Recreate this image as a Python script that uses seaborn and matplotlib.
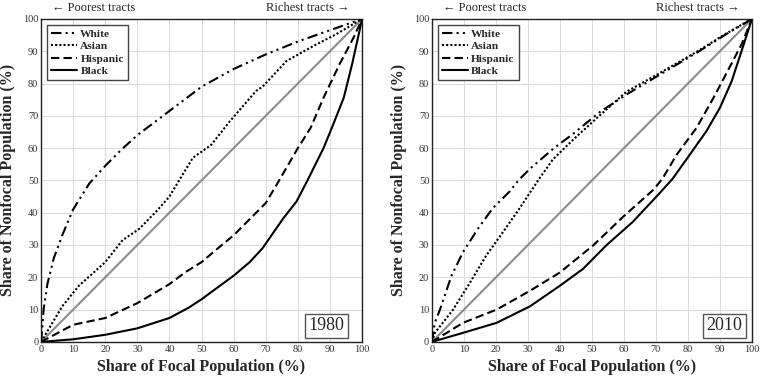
import matplotlib
matplotlib.use("Agg")
import matplotlib.pyplot as plt
import seaborn as sns
import pandas as pd
from matplotlib.lines import Line2D

# --- data (cumulative shares, %) ---
white_1980_x = [0, 0.3, 0.8, 2, 4, 6.6, 10, 15, 20, 25, 30, 40, 50, 60, 70, 80, 90, 100]
white_1980_y = [0, 3, 10, 18, 26, 33, 41, 49, 54.5, 59.5, 64, 71.5, 79, 84.5, 89, 93, 96.5, 100]
asian_1980_x = [0, 6.6, 11.8, 20, 25.4, 30.6, 35.8, 40, 43, 47.3, 53, 58.8, 67, 69, 76.5, 85, 92, 100]
asian_1980_y = [0, 11, 17.4, 24.7, 31.5, 35, 40.3, 45, 50, 57, 61, 68.3, 77.7, 79, 87, 91.7, 95.3, 100]
hisp_1980_x = [0, 10, 20, 30, 40, 45, 50, 55, 60, 70, 74, 80, 84, 88, 93, 97.4, 100]
hisp_1980_y = [0, 5.3, 7.4, 12, 17.9, 21.6, 24.7, 28.9, 33, 43, 49.7, 60, 66.3, 75.6, 86, 94.3, 100]
black_1980_x = [0, 10, 20, 30, 40, 46, 50, 60, 65, 69, 75.5, 79.6, 83, 88, 91, 94.3, 96.9, 99, 100]
black_1980_y = [0, 0.8, 2.2, 4.2, 7.4, 10.6, 13.2, 20.5, 24.7, 29, 38.3, 43.5, 50, 60, 67.3, 75.6, 86, 95.4, 100]

white_2010_x = [0, 0.9, 2.5, 6.1, 9.7, 14.4, 19, 24.3, 27, 30.6, 37.9, 44.2, 52.5, 60.8, 71.3, 82.7, 92, 100]
white_2010_y = [0, 6, 10, 20.5, 27.8, 35.1, 41.4, 46.6, 50, 53.6, 59.8, 64.5, 71.2, 76.6, 82.8, 89.5, 95.3, 100]
asian_2010_x = [0, 0.9, 6.6, 11.9, 17, 22.2, 27.4, 33.5, 37.8, 44, 52.5, 60.7, 71.3, 82.7, 92, 100]
asian_2010_y = [0, 2.8, 10, 18.4, 26.8, 34, 41.4, 50.5, 56.5, 62.5, 70.2, 77.4, 83.3, 89.8, 95.5, 100]
hisp_2010_x = [0, 9.7, 20.2, 30.6, 40, 50.4, 59.8, 69.2, 72, 76.5, 82.7, 88, 93, 96.8, 100]
hisp_2010_y = [0, 5.9, 10, 15.8, 21.5, 29.9, 38.8, 47.1, 50.5, 58, 66.3, 75.6, 85, 92.2, 100]
black_2010_x = [0, 9.7, 20.2, 30.6, 40, 47.2, 54.5, 62.8, 71.1, 75.2, 80.6, 85.8, 90, 93.7, 96.8, 100]
black_2010_y = [0, 2.8, 5.9, 11, 17.4, 22.6, 29.9, 37.2, 46, 50.5, 58, 65.3, 72.5, 80.8, 90.2, 100]

groups = ["White", "Asian", "Hispanic", "Black"]
years = ["1980", "2010"]
equality = [0, 100]

series = {
    "1980": {"White": (white_1980_x, white_1980_y), "Asian": (asian_1980_x, asian_1980_y),
             "Hispanic": (hisp_1980_x, hisp_1980_y), "Black": (black_1980_x, black_1980_y)},
    "2010": {"White": (white_2010_x, white_2010_y), "Asian": (asian_2010_x, asian_2010_y),
             "Hispanic": (hisp_2010_x, hisp_2010_y), "Black": (black_2010_x, black_2010_y)},
}

rows = []
for yr in years:
    for g in groups:
        xs, ys = series[yr][g]
        for a, b in zip(xs, ys):
            rows.append({"year": yr, "group": g, "focal": a, "nonfocal": b})
df = pd.DataFrame(rows)

sns.set_style("whitegrid")
plt.rcParams["font.family"] = ["Liberation Serif", "DejaVu Serif"]

dashes = {"White": (5, 2, 1, 2, 1, 2), "Asian": (1, 1), "Hispanic": (4, 2), "Black": ""}
palette = {g: "black" for g in groups}

fig = plt.figure(figsize=(7.6, 3.82), dpi=100)
axes = [fig.add_axes([0.054, 0.105, 0.4224, 0.8455]),
        fig.add_axes([0.5684, 0.105, 0.421, 0.8455])]
year_pos = {"1980": 0.944, "2010": 0.97}

for ax, yr in zip(axes, years):
    ax.plot(equality, equality, color="#8c8c8c", lw=1.5, zorder=2)
    sns.lineplot(data=df[df["year"] == yr], x="focal", y="nonfocal", hue="group",
                 style="group", palette=palette, dashes=dashes, hue_order=groups,
                 style_order=groups, estimator=None, sort=True, lw=1.5,
                 legend=False, ax=ax, zorder=3)
    ax.set_xlim(0, 100)
    ax.set_ylim(0, 100)
    ax.set_xticks(range(0, 101, 10))
    ax.set_yticks(range(0, 101, 10))
    ax.grid(True, color="#dcdcdc", lw=0.8)
    ax.tick_params(labelsize=7.5, length=0, pad=2, colors="#333333")
    for s in ax.spines.values():
        s.set_color("#222222")
        s.set_linewidth(1.0)
    ax.set_xlabel("Share of Focal Population (%)", fontsize=11.5, fontweight="bold", labelpad=4)
    ax.set_ylabel("Share of Nonfocal Population (%)", fontsize=11.5, fontweight="bold", labelpad=5)
    ax.text(0.035, 1.015, "\u2190 Poorest tracts", transform=ax.transAxes, fontsize=9, va="bottom", ha="left")
    ax.text(0.962, 1.015, "Richest tracts \u2192", transform=ax.transAxes, fontsize=9, va="bottom", ha="right")
    ax.text(year_pos[yr], 0.024, yr, transform=ax.transAxes, fontsize=13, ha="right", va="bottom",
            bbox=dict(boxstyle="square,pad=0.2", fc="white", ec="#555555", lw=1.0), zorder=5)

    handles = []
    for g in groups:
        if g == "Black":
            handles.append(Line2D([0], [0], color="black", lw=1.5, label=g))
        else:
            handles.append(Line2D([0], [0], color="black", lw=1.5, linestyle="--",
                                  dashes=dashes[g], label=g))
    leg = ax.legend(handles=handles, loc="upper left", frameon=True, fancybox=False,
                    prop={"weight": "bold", "size": 8.2}, handlelength=2.3, handletextpad=0.3,
                    borderaxespad=0.5, labelspacing=0.22, borderpad=0.35)
    leg.get_frame().set_edgecolor("#444444")
    leg.get_frame().set_linewidth(1.0)
    leg.get_frame().set_alpha(1)

fig.savefig("out.png", dpi=100)
